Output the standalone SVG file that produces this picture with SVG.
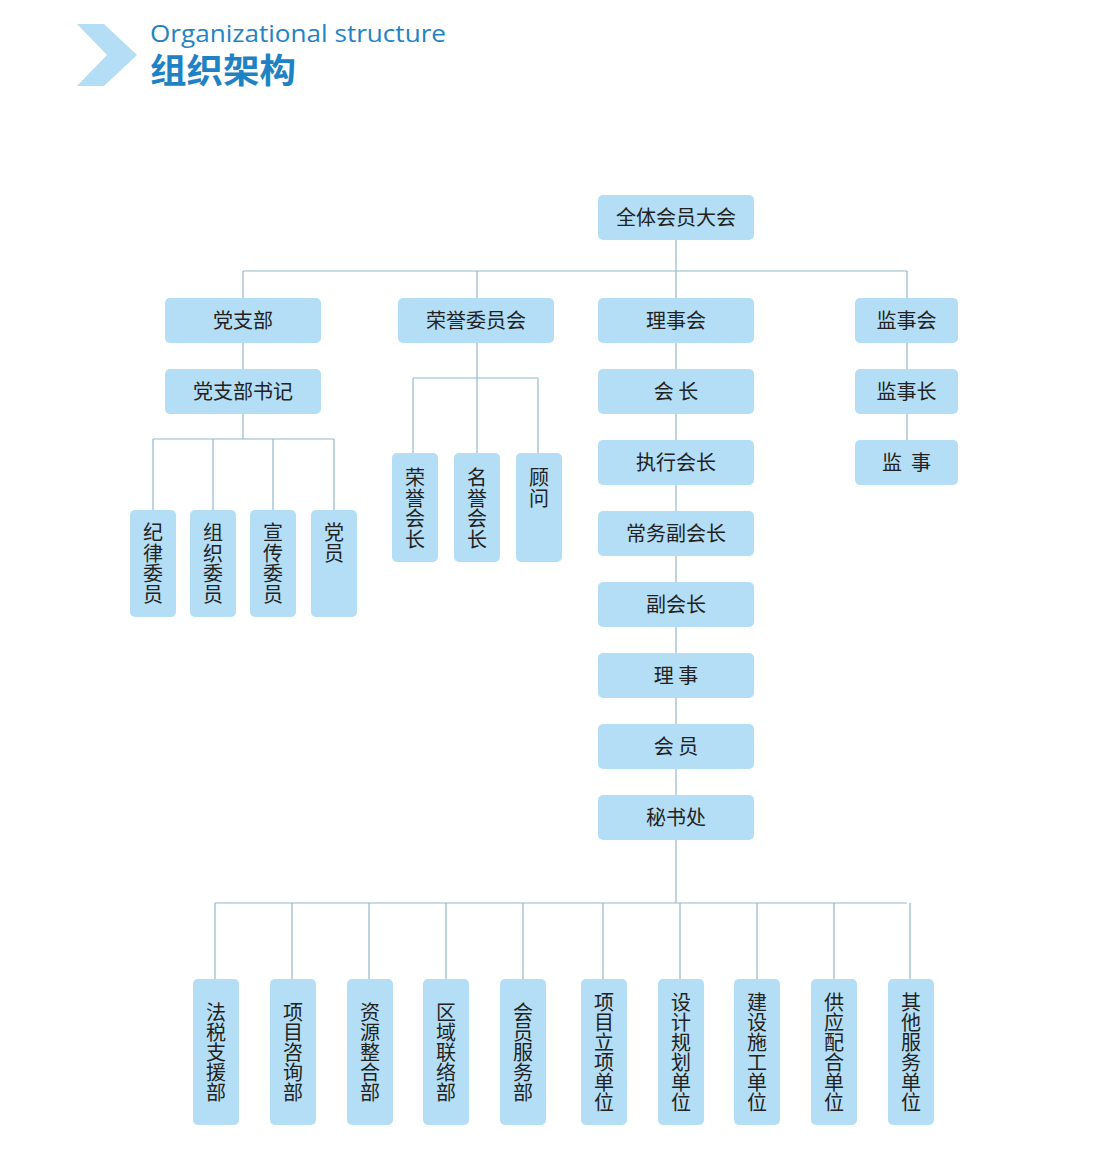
<svg xmlns="http://www.w3.org/2000/svg" width="1094" height="1164" viewBox="0 0 1094 1164">
<style>
.box{fill:#b4def5}
.t{font-family:"Noto Sans CJK SC","Noto Sans",sans-serif;font-size:20px;fill:#222;text-anchor:middle}
.ln{stroke:#94b8cc;stroke-width:1.2;fill:none}
</style>
<rect width="1094" height="1164" fill="#ffffff"/>
<g id="header">
<polygon points="77,24 104,24 137,55 104,86 77,86 107,55" fill="#b4def5"/>
<text x="150" y="42" font-family="'Open Sans','Noto Sans',sans-serif" font-size="24" fill="#2383c4" textLength="296" lengthAdjust="spacingAndGlyphs">Organizational structure</text>
<text x="150" y="83" font-family="'Noto Sans CJK SC',sans-serif" font-size="34" font-weight="bold" fill="#1e82c4" textLength="146" lengthAdjust="spacingAndGlyphs">组织架构</text>
</g>
<g id="connectors">
<path class="ln" d="M676,240V903M243,271H907M243,271V439M907,271V440M477,271V453M153,439H334M153,439V510M213,439V510M273,439V510M334,439V510M413,378H538M413,378V453M538,378V453M215,903H907M215,903V979M292,903V979M369,903V979M446,903V979M523,903V979M603,903V979M680,903V979M757,903V979M834,903V979M910,903V979"/>
</g>
<g id="n-all"><rect class="box" x="598" y="195" width="156" height="45" rx="5"/><text class="t" x="676" y="224.5">全体会员大会</text></g>
<g id="n-dzb"><rect class="box" x="165" y="298" width="156" height="45" rx="5"/><text class="t" x="243" y="327.5">党支部</text></g>
<g id="n-ryw"><rect class="box" x="398" y="298" width="156" height="45" rx="5"/><text class="t" x="476" y="327.5">荣誉委员会</text></g>
<g id="n-lsh"><rect class="box" x="598" y="298" width="156" height="45" rx="5"/><text class="t" x="676" y="327.5">理事会</text></g>
<g id="n-jsh"><rect class="box" x="855" y="298" width="103" height="45" rx="5"/><text class="t" x="906.5" y="327.5">监事会</text></g>
<g id="n-dzbsj"><rect class="box" x="165" y="369" width="156" height="45" rx="5"/><text class="t" x="243" y="398.5">党支部书记</text></g>
<g id="n-hz"><rect class="box" x="598" y="369" width="156" height="45" rx="5"/><text class="t" x="676" y="398.5" style="white-space:pre">会 长</text></g>
<g id="n-jsz"><rect class="box" x="855" y="369" width="103" height="45" rx="5"/><text class="t" x="906.5" y="398.5">监事长</text></g>
<g id="n-zxhz"><rect class="box" x="598" y="440" width="156" height="45" rx="5"/><text class="t" x="676" y="469.5">执行会长</text></g>
<g id="n-js"><rect class="box" x="855" y="440" width="103" height="45" rx="5"/><text class="t" x="906.5" y="469.5" style="white-space:pre">监  事</text></g>
<g id="n-cwfhz"><rect class="box" x="598" y="511" width="156" height="45" rx="5"/><text class="t" x="676" y="540.5">常务副会长</text></g>
<g id="n-fhz"><rect class="box" x="598" y="582" width="156" height="45" rx="5"/><text class="t" x="676" y="611.5">副会长</text></g>
<g id="n-ls"><rect class="box" x="598" y="653" width="156" height="45" rx="5"/><text class="t" x="676" y="682.5" style="white-space:pre">理 事</text></g>
<g id="n-hy"><rect class="box" x="598" y="724" width="156" height="45" rx="5"/><text class="t" x="676" y="753.5" style="white-space:pre">会 员</text></g>
<g id="n-msc"><rect class="box" x="598" y="795" width="156" height="45" rx="5"/><text class="t" x="676" y="824.5">秘书处</text></g>
<g id="n-jlwy"><rect class="box" x="130" y="510" width="46" height="107" rx="5"/><text class="t"><tspan x="153" y="540">纪</tspan><tspan x="153" y="560.5">律</tspan><tspan x="153" y="581">委</tspan><tspan x="153" y="601.5">员</tspan></text></g>
<g id="n-zzwy"><rect class="box" x="190" y="510" width="46" height="107" rx="5"/><text class="t"><tspan x="213" y="540">组</tspan><tspan x="213" y="560.5">织</tspan><tspan x="213" y="581">委</tspan><tspan x="213" y="601.5">员</tspan></text></g>
<g id="n-xcwy"><rect class="box" x="250" y="510" width="46" height="107" rx="5"/><text class="t"><tspan x="273" y="540">宣</tspan><tspan x="273" y="560.5">传</tspan><tspan x="273" y="581">委</tspan><tspan x="273" y="601.5">员</tspan></text></g>
<g id="n-dy"><rect class="box" x="311" y="510" width="46" height="107" rx="5"/><text class="t"><tspan x="334" y="540">党</tspan><tspan x="334" y="560.5">员</tspan></text></g>
<g id="n-ryhz"><rect class="box" x="392" y="453" width="46" height="109" rx="5"/><text class="t"><tspan x="415" y="485">荣</tspan><tspan x="415" y="505.5">誉</tspan><tspan x="415" y="526">会</tspan><tspan x="415" y="546.5">长</tspan></text></g>
<g id="n-myhz"><rect class="box" x="454" y="453" width="46" height="109" rx="5"/><text class="t"><tspan x="477" y="485">名</tspan><tspan x="477" y="505.5">誉</tspan><tspan x="477" y="526">会</tspan><tspan x="477" y="546.5">长</tspan></text></g>
<g id="n-gw"><rect class="box" x="516" y="453" width="46" height="109" rx="5"/><text class="t"><tspan x="539" y="485">顾</tspan><tspan x="539" y="505.5">问</tspan></text></g>
<g id="n-b1"><rect class="box" x="193" y="979" width="46" height="146" rx="5"/><text class="t"><tspan x="216" y="1020">法</tspan><tspan x="216" y="1040">税</tspan><tspan x="216" y="1060">支</tspan><tspan x="216" y="1080">援</tspan><tspan x="216" y="1100">部</tspan></text></g>
<g id="n-b2"><rect class="box" x="270" y="979" width="46" height="146" rx="5"/><text class="t"><tspan x="293" y="1020">项</tspan><tspan x="293" y="1040">目</tspan><tspan x="293" y="1060">咨</tspan><tspan x="293" y="1080">询</tspan><tspan x="293" y="1100">部</tspan></text></g>
<g id="n-b3"><rect class="box" x="347" y="979" width="46" height="146" rx="5"/><text class="t"><tspan x="370" y="1020">资</tspan><tspan x="370" y="1040">源</tspan><tspan x="370" y="1060">整</tspan><tspan x="370" y="1080">合</tspan><tspan x="370" y="1100">部</tspan></text></g>
<g id="n-b4"><rect class="box" x="423" y="979" width="46" height="146" rx="5"/><text class="t"><tspan x="446" y="1020">区</tspan><tspan x="446" y="1040">域</tspan><tspan x="446" y="1060">联</tspan><tspan x="446" y="1080">络</tspan><tspan x="446" y="1100">部</tspan></text></g>
<g id="n-b5"><rect class="box" x="500" y="979" width="46" height="146" rx="5"/><text class="t"><tspan x="523" y="1020">会</tspan><tspan x="523" y="1040">员</tspan><tspan x="523" y="1060">服</tspan><tspan x="523" y="1080">务</tspan><tspan x="523" y="1100">部</tspan></text></g>
<g id="n-b6"><rect class="box" x="581" y="979" width="46" height="146" rx="5"/><text class="t"><tspan x="604" y="1010">项</tspan><tspan x="604" y="1030">目</tspan><tspan x="604" y="1050">立</tspan><tspan x="604" y="1070">项</tspan><tspan x="604" y="1090">单</tspan><tspan x="604" y="1110">位</tspan></text></g>
<g id="n-b7"><rect class="box" x="658" y="979" width="46" height="146" rx="5"/><text class="t"><tspan x="681" y="1010">设</tspan><tspan x="681" y="1030">计</tspan><tspan x="681" y="1050">规</tspan><tspan x="681" y="1070">划</tspan><tspan x="681" y="1090">单</tspan><tspan x="681" y="1110">位</tspan></text></g>
<g id="n-b8"><rect class="box" x="734" y="979" width="46" height="146" rx="5"/><text class="t"><tspan x="757" y="1010">建</tspan><tspan x="757" y="1030">设</tspan><tspan x="757" y="1050">施</tspan><tspan x="757" y="1070">工</tspan><tspan x="757" y="1090">单</tspan><tspan x="757" y="1110">位</tspan></text></g>
<g id="n-b9"><rect class="box" x="811" y="979" width="46" height="146" rx="5"/><text class="t"><tspan x="834" y="1010">供</tspan><tspan x="834" y="1030">应</tspan><tspan x="834" y="1050">配</tspan><tspan x="834" y="1070">合</tspan><tspan x="834" y="1090">单</tspan><tspan x="834" y="1110">位</tspan></text></g>
<g id="n-b10"><rect class="box" x="888" y="979" width="46" height="146" rx="5"/><text class="t"><tspan x="911" y="1010">其</tspan><tspan x="911" y="1030">他</tspan><tspan x="911" y="1050">服</tspan><tspan x="911" y="1070">务</tspan><tspan x="911" y="1090">单</tspan><tspan x="911" y="1110">位</tspan></text></g>
</svg>
